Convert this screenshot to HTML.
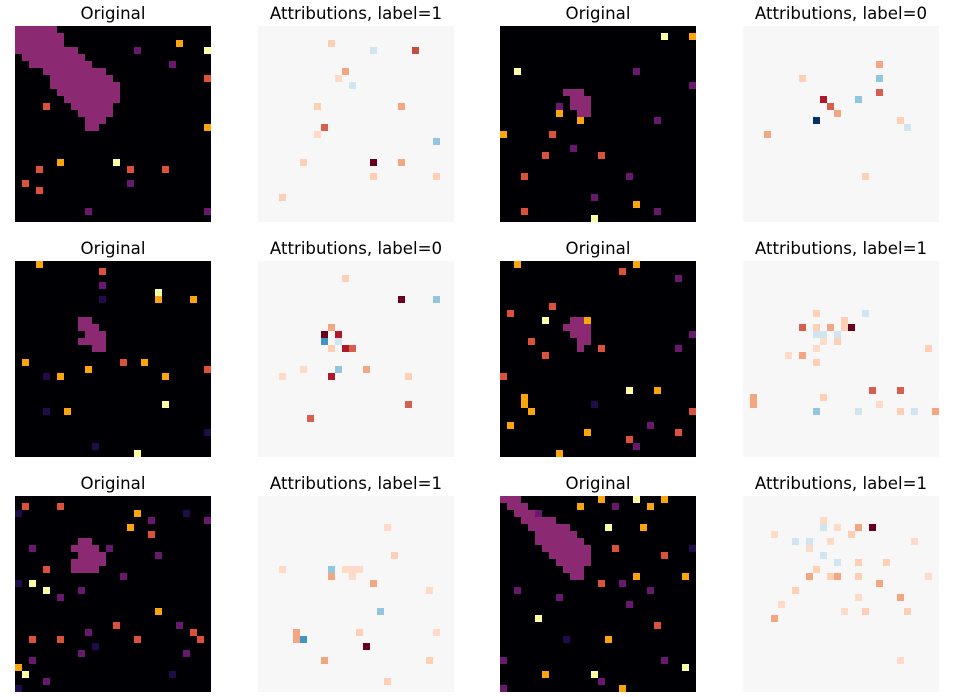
<!DOCTYPE html>
<html><head><meta charset="utf-8"><style>
body{margin:0;background:#fff;width:955px;height:692px;overflow:hidden;font-family:"Liberation Sans","DejaVu Sans",sans-serif}
</style></head><body>
<svg id="fig" width="955" height="692" xmlns="http://www.w3.org/2000/svg"></svg>
<script>
// panel titles
const titles = ["Original","Attributions, label=1","Original","Attributions, label=0",
"Original","Attributions, label=0","Original","Attributions, label=1",
"Original","Attributions, label=1","Original","Attributions, label=1"];
// blobs per panel: [row, colStart, colEnd]
const blobs = [
 [[0,0,5],[1,0,6],[2,0,6],[3,0,8],[4,1,9],[5,2,10],[6,4,12],[7,5,13],[8,5,14],[9,6,14],[10,7,14],[11,8,13],[12,9,13],[13,10,12],[14,10,11]],
 [],
 [[9,9,11],[10,10,12],[11,10,12],[12,11,12]],
 [],
 [[8,9,10],[9,9,11],[10,10,12],[11,9,12],[12,11,12]],
 [],
 [[8,10,11],[9,9,12],[10,10,12],[11,11,12],[12,11,11]],
 [],
 [[6,9,10],[7,8,11],[8,9,12],[9,8,12],[10,8,11]],
 [],
 [[0,0,2],[1,1,3],[2,2,4],[3,3,7],[4,4,9],[5,5,10],[6,5,11],[7,6,12],[8,7,12],[9,8,12],[10,9,11],[11,10,11]],
 []
];
// dots per panel: [col,row,colour]
const dots = [
 [[23,2,"#fca50a"],[27,3,"#fcffa4"],[17,3,"#6a176e"],[27,7,"#dd513a"],[22,5,"#6a176e"],[4,11,"#dd513a"],[27,14,"#fca50a"],[14,19,"#fcffa4"],[6,19,"#fca50a"],[16,20,"#dd513a"],[3,20,"#dd513a"],[1,22,"#dd513a"],[16,22,"#6a176e"],[10,26,"#6a176e"],[27,26,"#6a176e"],[3,23,"#dd513a"],[21,20,"#dd513a"]],
 [[10,2,"#fdd0b5"],[22,3,"#c44d3f"],[16,3,"#d1e5f0"],[12,6,"#f4a582"],[8,11,"#fdd0b5"],[9,14,"#d6604d"],[20,11,"#f4a582"],[25,16,"#92c5de"],[16,19,"#67001f"],[20,19,"#f4a582"],[6,19,"#fdd0b5"],[16,21,"#fdd0b5"],[25,21,"#fdd0b5"],[3,24,"#fdd0b5"],[8,15,"#fddbc7"],[11,7,"#fddbc7"],[13,8,"#d1e5f0"]],
 [[23,1,"#fcffa4"],[27,1,"#fca50a"],[2,6,"#fcffa4"],[19,6,"#6a176e"],[27,8,"#6a176e"],[8,12,"#fca50a"],[11,13,"#fca50a"],[0,15,"#fca50a"],[7,15,"#dd513a"],[22,13,"#6a176e"],[6,18,"#dd513a"],[10,17,"#6a176e"],[14,18,"#dd513a"],[3,21,"#dd513a"],[18,21,"#6a176e"],[13,24,"#6a176e"],[19,25,"#fca50a"],[3,26,"#dd513a"],[13,27,"#fcffa4"],[22,26,"#6a176e"],[8,11,"#6a176e"]],
 [[19,9,"#d6604d"],[11,10,"#b2182b"],[12,11,"#d6604d"],[10,13,"#053061"],[16,10,"#92c5de"],[13,12,"#f4a582"],[19,5,"#f4a582"],[22,13,"#fdd0b5"],[3,15,"#f4a582"],[19,7,"#92c5de"],[17,21,"#fdd0b5"],[8,7,"#fdd0b5"],[23,14,"#d1e5f0"]],
 [[3,0,"#fca50a"],[12,1,"#dd513a"],[12,3,"#6a176e"],[20,4,"#fcffa4"],[25,5,"#fca50a"],[12,5,"#1f0c48"],[1,14,"#fca50a"],[10,15,"#fca50a"],[18,14,"#fca50a"],[15,14,"#dd513a"],[27,15,"#dd513a"],[6,16,"#fca50a"],[4,16,"#1f0c48"],[21,16,"#fca50a"],[21,20,"#fcffa4"],[7,21,"#fca50a"],[4,21,"#1f0c48"],[27,24,"#1f0c48"],[11,26,"#1f0c48"],[17,27,"#fcffa4"],[20,5,"#fca50a"]],
 [[12,2,"#fdd0b5"],[20,5,"#67001f"],[25,5,"#92c5de"],[10,9,"#f4a582"],[9,10,"#67001f"],[11,10,"#b2182b"],[9,11,"#4393c3"],[11,11,"#d1e5f0"],[12,12,"#b2182b"],[13,12,"#d6604d"],[10,12,"#fdd0b5"],[11,15,"#92c5de"],[15,15,"#f4a582"],[10,16,"#b2182b"],[21,16,"#fdd0b5"],[3,16,"#fddbc7"],[21,20,"#d6604d"],[7,22,"#d6604d"],[6,15,"#fddbc7"]],
 [[2,0,"#fca50a"],[19,0,"#fca50a"],[17,1,"#dd513a"],[25,2,"#6a176e"],[7,6,"#dd513a"],[1,7,"#dd513a"],[6,8,"#fcffa4"],[12,8,"#fca50a"],[27,10,"#6a176e"],[4,11,"#dd513a"],[6,13,"#dd513a"],[25,12,"#6a176e"],[14,12,"#dd513a"],[0,16,"#dd513a"],[18,18,"#fcffa4"],[22,18,"#fca50a"],[3,19,"#fca50a"],[3,20,"#fca50a"],[4,21,"#fca50a"],[13,20,"#1f0c48"],[27,21,"#dd513a"],[1,23,"#fca50a"],[12,24,"#fca50a"],[21,23,"#6a176e"],[19,26,"#6a176e"],[18,25,"#dd513a"],[25,24,"#dd513a"],[8,27,"#fca50a"]],
 [[10,7,"#fdd0b5"],[14,8,"#fdd0b5"],[8,9,"#d6604d"],[10,9,"#fdd0b5"],[12,9,"#f4a582"],[14,9,"#fdd0b5"],[10,10,"#d1e5f0"],[11,10,"#d1e5f0"],[13,10,"#d1e5f0"],[15,9,"#67001f"],[13,11,"#fdd0b5"],[17,7,"#d1e5f0"],[11,11,"#fddbc7"],[10,12,"#fddbc7"],[8,13,"#f4a582"],[6,13,"#fddbc7"],[10,14,"#fdd0b5"],[26,12,"#fdd0b5"],[22,18,"#d6604d"],[18,18,"#d6604d"],[1,19,"#f4a582"],[1,20,"#f4a582"],[11,19,"#fdd0b5"],[19,20,"#fddbc7"],[22,21,"#fdd0b5"],[10,21,"#92c5de"],[16,21,"#d1e5f0"],[27,21,"#f4a582"],[24,21,"#d1e5f0"]],
 [[1,1,"#dd513a"],[6,1,"#dd513a"],[0,2,"#1f0c48"],[17,2,"#fca50a"],[24,2,"#1f0c48"],[27,3,"#6a176e"],[19,3,"#6a176e"],[16,4,"#fca50a"],[19,5,"#dd513a"],[2,7,"#6a176e"],[13,7,"#6a176e"],[20,8,"#6a176e"],[4,10,"#dd513a"],[15,11,"#6a176e"],[2,12,"#fcffa4"],[4,13,"#fcffa4"],[0,12,"#1f0c48"],[9,13,"#6a176e"],[20,16,"#fca50a"],[14,18,"#dd513a"],[23,18,"#6a176e"],[2,20,"#dd513a"],[6,20,"#dd513a"],[17,20,"#dd513a"],[10,19,"#6a176e"],[25,19,"#dd513a"],[26,20,"#dd513a"],[11,21,"#1f0c48"],[9,22,"#6a176e"],[24,22,"#6a176e"],[2,23,"#6a176e"],[0,24,"#fca50a"],[1,25,"#fcffa4"],[4,26,"#6a176e"],[0,27,"#1f0c48"],[22,25,"#1f0c48"],[6,14,"#6a176e"]],
 [[18,4,"#fddbc7"],[3,10,"#fddbc7"],[10,10,"#92c5de"],[12,10,"#fddbc7"],[13,10,"#fddbc7"],[14,10,"#fddbc7"],[10,11,"#f4a582"],[13,11,"#fddbc7"],[16,12,"#f4a582"],[19,8,"#fdd0b5"],[24,13,"#fddbc7"],[17,16,"#92c5de"],[5,19,"#f4a582"],[6,20,"#4393c3"],[5,20,"#f4a582"],[14,19,"#fdd0b5"],[15,21,"#67001f"],[9,23,"#f4a582"],[24,23,"#fdd0b5"],[18,26,"#fdd0b5"],[25,19,"#fddbc7"]],
 [[14,0,"#fca50a"],[19,0,"#fcffa4"],[23,0,"#fca50a"],[11,1,"#fca50a"],[16,1,"#6a176e"],[21,1,"#fca50a"],[5,2,"#6a176e"],[15,4,"#fcffa4"],[20,4,"#fca50a"],[27,7,"#1f0c48"],[16,7,"#dd513a"],[23,8,"#dd513a"],[26,11,"#fca50a"],[19,11,"#fca50a"],[14,12,"#dd513a"],[17,12,"#6a176e"],[2,13,"#6a176e"],[21,13,"#6a176e"],[8,14,"#6a176e"],[18,15,"#6a176e"],[5,17,"#fcffa4"],[22,18,"#dd513a"],[9,20,"#1f0c48"],[15,20,"#fca50a"],[23,23,"#6a176e"],[0,23,"#6a176e"],[26,24,"#fcffa4"],[6,25,"#fca50a"],[13,25,"#fcffa4"],[14,26,"#6a176e"],[17,27,"#fca50a"],[0,27,"#6a176e"]],
 [[11,3,"#fddbc7"],[13,4,"#fddbc7"],[16,4,"#f4a582"],[11,4,"#d1e5f0"],[18,4,"#67001f"],[4,5,"#fddbc7"],[7,6,"#d1e5f0"],[9,6,"#d1e5f0"],[12,6,"#fddbc7"],[15,5,"#fdd0b5"],[9,7,"#fddbc7"],[11,8,"#d1e5f0"],[13,9,"#d1e5f0"],[16,9,"#fdd0b5"],[10,10,"#fdd0b5"],[9,11,"#f4a582"],[12,11,"#fdd0b5"],[16,11,"#fdd0b5"],[19,12,"#f4a582"],[13,11,"#f4a582"],[20,9,"#fdd0b5"],[24,6,"#fddbc7"],[26,11,"#fddbc7"],[7,13,"#fdd0b5"],[5,15,"#fddbc7"],[4,17,"#f4a582"],[14,16,"#fddbc7"],[16,14,"#fddbc7"],[17,16,"#fdd0b5"],[22,14,"#f4a582"],[23,16,"#fdd0b5"],[22,23,"#fddbc7"]]
];
const cellSize = 7;
const panelX = [15,258,500,743], panelY = [26,261,496];
const svg = document.getElementById('fig');
const NS = "http://www.w3.org/2000/svg";
for (let p = 0; p < 12; p++) {
  const x0 = panelX[p % 4], y0 = panelY[Math.floor(p / 4)];
  const isOrig = (p % 2 === 0);
  const g = document.createElementNS(NS, 'g');
  
  
  const bg = document.createElementNS(NS, 'rect');
  bg.setAttribute('x', x0); bg.setAttribute('y', y0);
  bg.setAttribute('width', 196); bg.setAttribute('height', 196);
  bg.setAttribute('fill', isOrig ? '#000004' : '#f7f7f7');
  
  
  g.appendChild(bg);
  blobs[p].forEach(b => {
    const r = document.createElementNS(NS, 'rect');
    r.setAttribute('x', x0 + b[1] * cellSize); r.setAttribute('y', y0 + b[0] * cellSize);
    r.setAttribute('width', (b[2] - b[1] + 1) * cellSize); r.setAttribute('height', cellSize);
    r.setAttribute('fill', '#8b2a72');
    
    
    g.appendChild(r);
  });
  dots[p].forEach(d => {
    const r = document.createElementNS(NS, 'rect');
    r.setAttribute('x', x0 + d[0] * cellSize); r.setAttribute('y', y0 + d[1] * cellSize);
    r.setAttribute('width', cellSize); r.setAttribute('height', cellSize);
    r.setAttribute('fill', d[2]);
    
    
    g.appendChild(r);
  });
  const t = document.createElementNS(NS, 'text');
  t.setAttribute('x', x0 + 98); t.setAttribute('y', y0 - 7);
  t.setAttribute('text-anchor', 'middle');
  t.setAttribute('font-size', '16.6');
  t.setAttribute('fill', '#000');
  t.setAttribute('font-family', 'DejaVu Sans, Liberation Sans, sans-serif');
  t.textContent = titles[p];
  
  
  g.appendChild(t);
  svg.appendChild(g);
}
</script>
</body></html>
